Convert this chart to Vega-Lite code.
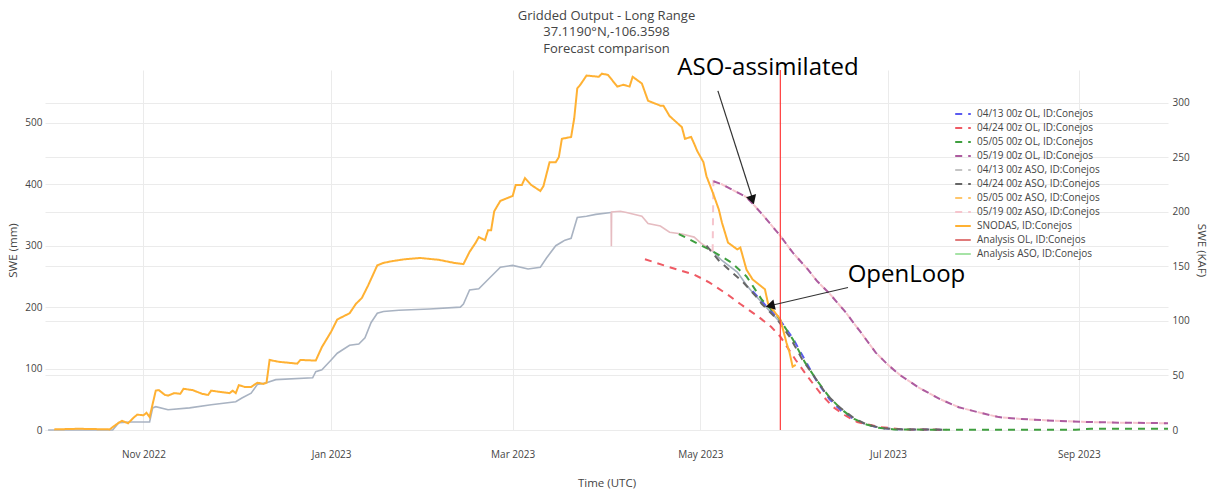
{
  "$schema": "https://vega.github.io/schema/vega-lite/v6.json",
  "width": 1123,
  "height": 360,
  "autosize": {"type": "none"},
  "padding": {"left": 45, "top": 70, "right": 41, "bottom": 60},
  "background": "white",
  "config": {
    "view": {"stroke": null},
    "font": "Open Sans",
    "axis": {"labelFont": "Open Sans", "labelFontSize": 10, "labelColor": "#444", "titleFont": "Open Sans", "titleFontSize": 11.5, "titleFontWeight": "normal", "titleColor": "#444", "domain": false, "ticks": false, "gridColor": "#ebebeb", "gridWidth": 1},
    "axisX": {"labelExpr": "utcFormat(datum.value, '%b %Y')"},
    "legend": {"orient": "none", "legendX": 909, "legendY": 35, "labelFont": "Open Sans", "labelFontSize": 10, "labelColor": "#444", "symbolType": "stroke", "symbolSize": 243, "symbolStrokeWidth": 2, "rowPadding": 0, "labelOffset": 5, "labelLimit": 300, "padding": 0, "title": null}
  },
  "title": {"text": ["Gridded Output - Long Range", "37.1190°N,-106.3598", "Forecast comparison"], "font": "Open Sans", "fontSize": 13, "fontWeight": "normal", "color": "#444", "lineHeight": 16.3, "anchor": "middle", "offset": 0, "frame": "group"},
  "datasets": {
    "hist1": [
      {"date": "2022-10-01", "swe": 0}, {"date": "2022-10-22", "swe": 0}, {"date": "2022-10-24", "swe": 12}, {"date": "2022-10-28", "swe": 13},
      {"date": "2022-11-03", "swe": 13}, {"date": "2022-11-04", "swe": 36}, {"date": "2022-11-05", "swe": 38}, {"date": "2022-11-09", "swe": 33},
      {"date": "2022-11-16", "swe": 36}, {"date": "2022-11-23", "swe": 41}, {"date": "2022-12-01", "swe": 46}, {"date": "2022-12-03", "swe": 52},
      {"date": "2022-12-06", "swe": 60}, {"date": "2022-12-08", "swe": 74}, {"date": "2022-12-11", "swe": 77}, {"date": "2022-12-14", "swe": 82},
      {"date": "2022-12-26", "swe": 85}, {"date": "2022-12-27", "swe": 95}, {"date": "2022-12-29", "swe": 98}, {"date": "2023-01-01", "swe": 114},
      {"date": "2023-01-03", "swe": 125}, {"date": "2023-01-07", "swe": 138}, {"date": "2023-01-10", "swe": 140}, {"date": "2023-01-12", "swe": 150},
      {"date": "2023-01-14", "swe": 175}, {"date": "2023-01-16", "swe": 190}, {"date": "2023-01-18", "swe": 193}, {"date": "2023-01-23", "swe": 195},
      {"date": "2023-02-02", "swe": 197}, {"date": "2023-02-12", "swe": 200}, {"date": "2023-02-13", "swe": 205}, {"date": "2023-02-15", "swe": 228},
      {"date": "2023-02-18", "swe": 230}, {"date": "2023-02-21", "swe": 245}, {"date": "2023-02-25", "swe": 265}, {"date": "2023-03-01", "swe": 268},
      {"date": "2023-03-06", "swe": 262}, {"date": "2023-03-10", "swe": 265}, {"date": "2023-03-12", "swe": 280}, {"date": "2023-03-15", "swe": 300},
      {"date": "2023-03-17", "swe": 306}, {"date": "2023-03-18", "swe": 309}, {"date": "2023-03-20", "swe": 312}, {"date": "2023-03-22", "swe": 346},
      {"date": "2023-03-25", "swe": 348}, {"date": "2023-03-28", "swe": 351}, {"date": "2023-04-02", "swe": 354}
    ],
    "hist2": [
      {"date": "2023-04-02", "swe": 354}, {"date": "2023-04-02T02:00:00Z", "swe": 299}, {"date": "2023-04-02T04:00:00Z", "swe": 355},
      {"date": "2023-04-05", "swe": 356}, {"date": "2023-04-07", "swe": 354}, {"date": "2023-04-12", "swe": 348}, {"date": "2023-04-14", "swe": 336},
      {"date": "2023-04-18", "swe": 332}, {"date": "2023-04-21", "swe": 322}, {"date": "2023-04-25", "swe": 319}, {"date": "2023-04-29", "swe": 314},
      {"date": "2023-05-01", "swe": 305}, {"date": "2023-05-05", "swe": 291}
    ],
    "hist3": [
      {"date": "2023-05-05", "swe": 291}, {"date": "2023-05-08", "swe": 276}, {"date": "2023-05-13", "swe": 257}, {"date": "2023-05-16", "swe": 236},
      {"date": "2023-05-18", "swe": 224}, {"date": "2023-05-22", "swe": 202}, {"date": "2023-05-27", "swe": 175}
    ],
    "lines": [
      {"series": "04/13 00z OL, ID:Conejos", "date": "2023-05-18", "swe": 226},
      {"series": "04/13 00z OL, ID:Conejos", "date": "2023-05-22", "swe": 204},
      {"series": "04/13 00z OL, ID:Conejos", "date": "2023-05-27", "swe": 178},
      {"series": "04/13 00z OL, ID:Conejos", "date": "2023-05-31", "swe": 150},
      {"series": "04/13 00z OL, ID:Conejos", "date": "2023-06-04", "swe": 114},
      {"series": "04/13 00z OL, ID:Conejos", "date": "2023-06-08", "swe": 78},
      {"series": "04/13 00z OL, ID:Conejos", "date": "2023-06-12", "swe": 50},
      {"series": "04/13 00z OL, ID:Conejos", "date": "2023-06-16", "swe": 30},
      {"series": "04/13 00z OL, ID:Conejos", "date": "2023-06-20", "swe": 17},
      {"series": "04/13 00z OL, ID:Conejos", "date": "2023-06-24", "swe": 9},
      {"series": "04/13 00z OL, ID:Conejos", "date": "2023-06-28", "swe": 4},
      {"series": "04/13 00z OL, ID:Conejos", "date": "2023-07-03", "swe": 1.2},
      {"series": "04/13 00z OL, ID:Conejos", "date": "2023-07-20", "swe": 0.3},

      {"series": "04/24 00z OL, ID:Conejos", "date": "2023-04-13", "swe": 278},
      {"series": "04/24 00z OL, ID:Conejos", "date": "2023-04-21", "swe": 265},
      {"series": "04/24 00z OL, ID:Conejos", "date": "2023-04-29", "swe": 253},
      {"series": "04/24 00z OL, ID:Conejos", "date": "2023-05-04", "swe": 240},
      {"series": "04/24 00z OL, ID:Conejos", "date": "2023-05-10", "swe": 220},
      {"series": "04/24 00z OL, ID:Conejos", "date": "2023-05-14", "swe": 205},
      {"series": "04/24 00z OL, ID:Conejos", "date": "2023-05-20", "swe": 184},
      {"series": "04/24 00z OL, ID:Conejos", "date": "2023-05-24", "swe": 168},
      {"series": "04/24 00z OL, ID:Conejos", "date": "2023-05-27", "swe": 152},
      {"series": "04/24 00z OL, ID:Conejos", "date": "2023-06-01", "swe": 114},
      {"series": "04/24 00z OL, ID:Conejos", "date": "2023-06-05", "swe": 86},
      {"series": "04/24 00z OL, ID:Conejos", "date": "2023-06-09", "swe": 60},
      {"series": "04/24 00z OL, ID:Conejos", "date": "2023-06-13", "swe": 38},
      {"series": "04/24 00z OL, ID:Conejos", "date": "2023-06-17", "swe": 24},
      {"series": "04/24 00z OL, ID:Conejos", "date": "2023-06-21", "swe": 13},
      {"series": "04/24 00z OL, ID:Conejos", "date": "2023-06-28", "swe": 5},
      {"series": "04/24 00z OL, ID:Conejos", "date": "2023-07-06", "swe": 1},
      {"series": "04/24 00z OL, ID:Conejos", "date": "2023-07-20", "swe": 0.5},

      {"series": "05/05 00z OL, ID:Conejos", "date": "2023-04-24", "swe": 319},
      {"series": "05/05 00z OL, ID:Conejos", "date": "2023-05-05", "swe": 291},
      {"series": "05/05 00z OL, ID:Conejos", "date": "2023-05-11", "swe": 273},
      {"series": "05/05 00z OL, ID:Conejos", "date": "2023-05-16", "swe": 250},
      {"series": "05/05 00z OL, ID:Conejos", "date": "2023-05-21", "swe": 212},
      {"series": "05/05 00z OL, ID:Conejos", "date": "2023-05-26", "swe": 186},
      {"series": "05/05 00z OL, ID:Conejos", "date": "2023-05-31", "swe": 148},
      {"series": "05/05 00z OL, ID:Conejos", "date": "2023-06-04", "swe": 110},
      {"series": "05/05 00z OL, ID:Conejos", "date": "2023-06-08", "swe": 80},
      {"series": "05/05 00z OL, ID:Conejos", "date": "2023-06-12", "swe": 53},
      {"series": "05/05 00z OL, ID:Conejos", "date": "2023-06-16", "swe": 33},
      {"series": "05/05 00z OL, ID:Conejos", "date": "2023-06-20", "swe": 18},
      {"series": "05/05 00z OL, ID:Conejos", "date": "2023-06-24", "swe": 9},
      {"series": "05/05 00z OL, ID:Conejos", "date": "2023-06-28", "swe": 3.5},
      {"series": "05/05 00z OL, ID:Conejos", "date": "2023-07-03", "swe": 1},
      {"series": "05/05 00z OL, ID:Conejos", "date": "2023-07-15", "swe": 0.5},
      {"series": "05/05 00z OL, ID:Conejos", "date": "2023-08-31", "swe": 0.5},
      {"series": "05/05 00z OL, ID:Conejos", "date": "2023-09-05", "swe": 2},
      {"series": "05/05 00z OL, ID:Conejos", "date": "2023-09-30", "swe": 2},

      {"series": "04/24 00z ASO, ID:Conejos", "date": "2023-05-03", "swe": 300},
      {"series": "04/24 00z ASO, ID:Conejos", "date": "2023-05-07", "swe": 276},
      {"series": "04/24 00z ASO, ID:Conejos", "date": "2023-05-11", "swe": 258},
      {"series": "04/24 00z ASO, ID:Conejos", "date": "2023-05-15", "swe": 240},
      {"series": "04/24 00z ASO, ID:Conejos", "date": "2023-05-19", "swe": 218},
      {"series": "04/24 00z ASO, ID:Conejos", "date": "2023-05-21", "swe": 205},
      {"series": "04/24 00z ASO, ID:Conejos", "date": "2023-05-26", "swe": 180},
      {"series": "04/24 00z ASO, ID:Conejos", "date": "2023-05-30", "swe": 152},
      {"series": "04/24 00z ASO, ID:Conejos", "date": "2023-06-03", "swe": 116},
      {"series": "04/24 00z ASO, ID:Conejos", "date": "2023-06-08", "swe": 80},
      {"series": "04/24 00z ASO, ID:Conejos", "date": "2023-06-11", "swe": 58},
      {"series": "04/24 00z ASO, ID:Conejos", "date": "2023-06-15", "swe": 38},
      {"series": "04/24 00z ASO, ID:Conejos", "date": "2023-06-20", "swe": 19},
      {"series": "04/24 00z ASO, ID:Conejos", "date": "2023-06-24", "swe": 9},
      {"series": "04/24 00z ASO, ID:Conejos", "date": "2023-06-29", "swe": 3},
      {"series": "04/24 00z ASO, ID:Conejos", "date": "2023-07-06", "swe": 1},
      {"series": "04/24 00z ASO, ID:Conejos", "date": "2023-07-20", "swe": 0.5},

      {"series": "05/19 00z ASO, ID:Conejos", "date": "2023-05-05", "swe": 291},
      {"series": "05/19 00z ASO, ID:Conejos", "date": "2023-05-05T06:00:00Z", "swe": 405},
      {"series": "05/19 00z ASO, ID:Conejos", "date": "2023-05-08", "swe": 400},
      {"series": "05/19 00z ASO, ID:Conejos", "date": "2023-05-11", "swe": 392},
      {"series": "05/19 00z ASO, ID:Conejos", "date": "2023-05-16", "swe": 379},
      {"series": "05/19 00z ASO, ID:Conejos", "date": "2023-05-19", "swe": 363},
      {"series": "05/19 00z ASO, ID:Conejos", "date": "2023-05-22", "swe": 346},
      {"series": "05/19 00z ASO, ID:Conejos", "date": "2023-05-27", "swe": 316},
      {"series": "05/19 00z ASO, ID:Conejos", "date": "2023-05-31", "swe": 289},
      {"series": "05/19 00z ASO, ID:Conejos", "date": "2023-06-05", "swe": 261},
      {"series": "05/19 00z ASO, ID:Conejos", "date": "2023-06-08", "swe": 242},
      {"series": "05/19 00z ASO, ID:Conejos", "date": "2023-06-12", "swe": 222},
      {"series": "05/19 00z ASO, ID:Conejos", "date": "2023-06-17", "swe": 193},
      {"series": "05/19 00z ASO, ID:Conejos", "date": "2023-06-22", "swe": 160},
      {"series": "05/19 00z ASO, ID:Conejos", "date": "2023-06-27", "swe": 126},
      {"series": "05/19 00z ASO, ID:Conejos", "date": "2023-07-01", "swe": 106},
      {"series": "05/19 00z ASO, ID:Conejos", "date": "2023-07-05", "swe": 89},
      {"series": "05/19 00z ASO, ID:Conejos", "date": "2023-07-11", "swe": 69},
      {"series": "05/19 00z ASO, ID:Conejos", "date": "2023-07-18", "swe": 50},
      {"series": "05/19 00z ASO, ID:Conejos", "date": "2023-07-24", "swe": 37},
      {"series": "05/19 00z ASO, ID:Conejos", "date": "2023-07-31", "swe": 28},
      {"series": "05/19 00z ASO, ID:Conejos", "date": "2023-08-06", "swe": 21},
      {"series": "05/19 00z ASO, ID:Conejos", "date": "2023-08-13", "swe": 18},
      {"series": "05/19 00z ASO, ID:Conejos", "date": "2023-08-24", "swe": 15},
      {"series": "05/19 00z ASO, ID:Conejos", "date": "2023-09-04", "swe": 13},
      {"series": "05/19 00z ASO, ID:Conejos", "date": "2023-09-14", "swe": 12},
      {"series": "05/19 00z ASO, ID:Conejos", "date": "2023-09-30", "swe": 11},

      {"series": "05/19 00z OL, ID:Conejos", "date": "2023-05-05T06:00:00Z", "swe": 405},
      {"series": "05/19 00z OL, ID:Conejos", "date": "2023-05-08", "swe": 400},
      {"series": "05/19 00z OL, ID:Conejos", "date": "2023-05-11", "swe": 392},
      {"series": "05/19 00z OL, ID:Conejos", "date": "2023-05-16", "swe": 379},
      {"series": "05/19 00z OL, ID:Conejos", "date": "2023-05-19", "swe": 363},
      {"series": "05/19 00z OL, ID:Conejos", "date": "2023-05-22", "swe": 346},
      {"series": "05/19 00z OL, ID:Conejos", "date": "2023-05-27", "swe": 316},
      {"series": "05/19 00z OL, ID:Conejos", "date": "2023-05-31", "swe": 289},
      {"series": "05/19 00z OL, ID:Conejos", "date": "2023-06-05", "swe": 261},
      {"series": "05/19 00z OL, ID:Conejos", "date": "2023-06-08", "swe": 242},
      {"series": "05/19 00z OL, ID:Conejos", "date": "2023-06-12", "swe": 222},
      {"series": "05/19 00z OL, ID:Conejos", "date": "2023-06-17", "swe": 193},
      {"series": "05/19 00z OL, ID:Conejos", "date": "2023-06-22", "swe": 160},
      {"series": "05/19 00z OL, ID:Conejos", "date": "2023-06-27", "swe": 126},
      {"series": "05/19 00z OL, ID:Conejos", "date": "2023-07-01", "swe": 106},
      {"series": "05/19 00z OL, ID:Conejos", "date": "2023-07-05", "swe": 89},
      {"series": "05/19 00z OL, ID:Conejos", "date": "2023-07-11", "swe": 69},
      {"series": "05/19 00z OL, ID:Conejos", "date": "2023-07-18", "swe": 50},
      {"series": "05/19 00z OL, ID:Conejos", "date": "2023-07-24", "swe": 37},
      {"series": "05/19 00z OL, ID:Conejos", "date": "2023-07-31", "swe": 28},
      {"series": "05/19 00z OL, ID:Conejos", "date": "2023-08-06", "swe": 21},
      {"series": "05/19 00z OL, ID:Conejos", "date": "2023-08-13", "swe": 18},
      {"series": "05/19 00z OL, ID:Conejos", "date": "2023-08-24", "swe": 15},
      {"series": "05/19 00z OL, ID:Conejos", "date": "2023-09-04", "swe": 13},
      {"series": "05/19 00z OL, ID:Conejos", "date": "2023-09-14", "swe": 12},
      {"series": "05/19 00z OL, ID:Conejos", "date": "2023-09-30", "swe": 11},

      {"series": "SNODAS, ID:Conejos", "date": "2022-10-03", "swe": 1},
      {"series": "SNODAS, ID:Conejos", "date": "2022-10-11", "swe": 2},
      {"series": "SNODAS, ID:Conejos", "date": "2022-10-21", "swe": 1},
      {"series": "SNODAS, ID:Conejos", "date": "2022-10-24", "swe": 12},
      {"series": "SNODAS, ID:Conejos", "date": "2022-10-25", "swe": 15},
      {"series": "SNODAS, ID:Conejos", "date": "2022-10-27", "swe": 11},
      {"series": "SNODAS, ID:Conejos", "date": "2022-10-29", "swe": 21},
      {"series": "SNODAS, ID:Conejos", "date": "2022-10-30", "swe": 25},
      {"series": "SNODAS, ID:Conejos", "date": "2022-11-01", "swe": 24},
      {"series": "SNODAS, ID:Conejos", "date": "2022-11-02", "swe": 28},
      {"series": "SNODAS, ID:Conejos", "date": "2022-11-03", "swe": 21},
      {"series": "SNODAS, ID:Conejos", "date": "2022-11-05", "swe": 64},
      {"series": "SNODAS, ID:Conejos", "date": "2022-11-06", "swe": 65},
      {"series": "SNODAS, ID:Conejos", "date": "2022-11-08", "swe": 57},
      {"series": "SNODAS, ID:Conejos", "date": "2022-11-09", "swe": 56},
      {"series": "SNODAS, ID:Conejos", "date": "2022-11-11", "swe": 60},
      {"series": "SNODAS, ID:Conejos", "date": "2022-11-13", "swe": 59},
      {"series": "SNODAS, ID:Conejos", "date": "2022-11-14", "swe": 67},
      {"series": "SNODAS, ID:Conejos", "date": "2022-11-17", "swe": 65},
      {"series": "SNODAS, ID:Conejos", "date": "2022-11-20", "swe": 59},
      {"series": "SNODAS, ID:Conejos", "date": "2022-11-22", "swe": 57},
      {"series": "SNODAS, ID:Conejos", "date": "2022-11-23", "swe": 64},
      {"series": "SNODAS, ID:Conejos", "date": "2022-11-26", "swe": 62},
      {"series": "SNODAS, ID:Conejos", "date": "2022-11-29", "swe": 60},
      {"series": "SNODAS, ID:Conejos", "date": "2022-11-30", "swe": 64},
      {"series": "SNODAS, ID:Conejos", "date": "2022-12-01", "swe": 60},
      {"series": "SNODAS, ID:Conejos", "date": "2022-12-02", "swe": 73},
      {"series": "SNODAS, ID:Conejos", "date": "2022-12-04", "swe": 70},
      {"series": "SNODAS, ID:Conejos", "date": "2022-12-06", "swe": 70},
      {"series": "SNODAS, ID:Conejos", "date": "2022-12-08", "swe": 77},
      {"series": "SNODAS, ID:Conejos", "date": "2022-12-10", "swe": 75},
      {"series": "SNODAS, ID:Conejos", "date": "2022-12-11", "swe": 77},
      {"series": "SNODAS, ID:Conejos", "date": "2022-12-12", "swe": 114},
      {"series": "SNODAS, ID:Conejos", "date": "2022-12-15", "swe": 111},
      {"series": "SNODAS, ID:Conejos", "date": "2022-12-21", "swe": 108},
      {"series": "SNODAS, ID:Conejos", "date": "2022-12-22", "swe": 114},
      {"series": "SNODAS, ID:Conejos", "date": "2022-12-27", "swe": 113},
      {"series": "SNODAS, ID:Conejos", "date": "2022-12-29", "swe": 135},
      {"series": "SNODAS, ID:Conejos", "date": "2023-01-01", "swe": 160},
      {"series": "SNODAS, ID:Conejos", "date": "2023-01-03", "swe": 180},
      {"series": "SNODAS, ID:Conejos", "date": "2023-01-05", "swe": 185},
      {"series": "SNODAS, ID:Conejos", "date": "2023-01-07", "swe": 190},
      {"series": "SNODAS, ID:Conejos", "date": "2023-01-09", "swe": 205},
      {"series": "SNODAS, ID:Conejos", "date": "2023-01-11", "swe": 215},
      {"series": "SNODAS, ID:Conejos", "date": "2023-01-13", "swe": 235},
      {"series": "SNODAS, ID:Conejos", "date": "2023-01-16", "swe": 268},
      {"series": "SNODAS, ID:Conejos", "date": "2023-01-18", "swe": 272},
      {"series": "SNODAS, ID:Conejos", "date": "2023-01-21", "swe": 275},
      {"series": "SNODAS, ID:Conejos", "date": "2023-01-25", "swe": 278},
      {"series": "SNODAS, ID:Conejos", "date": "2023-01-30", "swe": 280},
      {"series": "SNODAS, ID:Conejos", "date": "2023-02-05", "swe": 277},
      {"series": "SNODAS, ID:Conejos", "date": "2023-02-10", "swe": 272},
      {"series": "SNODAS, ID:Conejos", "date": "2023-02-13", "swe": 270},
      {"series": "SNODAS, ID:Conejos", "date": "2023-02-15", "swe": 290},
      {"series": "SNODAS, ID:Conejos", "date": "2023-02-17", "swe": 305},
      {"series": "SNODAS, ID:Conejos", "date": "2023-02-18", "swe": 314},
      {"series": "SNODAS, ID:Conejos", "date": "2023-02-20", "swe": 309},
      {"series": "SNODAS, ID:Conejos", "date": "2023-02-21", "swe": 325},
      {"series": "SNODAS, ID:Conejos", "date": "2023-02-22", "swe": 325},
      {"series": "SNODAS, ID:Conejos", "date": "2023-02-23", "swe": 356},
      {"series": "SNODAS, ID:Conejos", "date": "2023-02-25", "swe": 373},
      {"series": "SNODAS, ID:Conejos", "date": "2023-02-27", "swe": 377},
      {"series": "SNODAS, ID:Conejos", "date": "2023-03-01", "swe": 381},
      {"series": "SNODAS, ID:Conejos", "date": "2023-03-02", "swe": 399},
      {"series": "SNODAS, ID:Conejos", "date": "2023-03-04", "swe": 399},
      {"series": "SNODAS, ID:Conejos", "date": "2023-03-05", "swe": 410},
      {"series": "SNODAS, ID:Conejos", "date": "2023-03-07", "swe": 399},
      {"series": "SNODAS, ID:Conejos", "date": "2023-03-10", "swe": 389},
      {"series": "SNODAS, ID:Conejos", "date": "2023-03-11", "swe": 397},
      {"series": "SNODAS, ID:Conejos", "date": "2023-03-13", "swe": 436},
      {"series": "SNODAS, ID:Conejos", "date": "2023-03-15", "swe": 436},
      {"series": "SNODAS, ID:Conejos", "date": "2023-03-16", "swe": 444},
      {"series": "SNODAS, ID:Conejos", "date": "2023-03-17", "swe": 474},
      {"series": "SNODAS, ID:Conejos", "date": "2023-03-20", "swe": 477},
      {"series": "SNODAS, ID:Conejos", "date": "2023-03-21", "swe": 507},
      {"series": "SNODAS, ID:Conejos", "date": "2023-03-22", "swe": 556},
      {"series": "SNODAS, ID:Conejos", "date": "2023-03-23", "swe": 562},
      {"series": "SNODAS, ID:Conejos", "date": "2023-03-25", "swe": 577},
      {"series": "SNODAS, ID:Conejos", "date": "2023-03-29", "swe": 575},
      {"series": "SNODAS, ID:Conejos", "date": "2023-03-30", "swe": 580},
      {"series": "SNODAS, ID:Conejos", "date": "2023-04-01", "swe": 578},
      {"series": "SNODAS, ID:Conejos", "date": "2023-04-04", "swe": 559},
      {"series": "SNODAS, ID:Conejos", "date": "2023-04-06", "swe": 562},
      {"series": "SNODAS, ID:Conejos", "date": "2023-04-08", "swe": 559},
      {"series": "SNODAS, ID:Conejos", "date": "2023-04-09", "swe": 575},
      {"series": "SNODAS, ID:Conejos", "date": "2023-04-12", "swe": 564},
      {"series": "SNODAS, ID:Conejos", "date": "2023-04-14", "swe": 536},
      {"series": "SNODAS, ID:Conejos", "date": "2023-04-18", "swe": 528},
      {"series": "SNODAS, ID:Conejos", "date": "2023-04-19", "swe": 528},
      {"series": "SNODAS, ID:Conejos", "date": "2023-04-21", "swe": 511},
      {"series": "SNODAS, ID:Conejos", "date": "2023-04-25", "swe": 493},
      {"series": "SNODAS, ID:Conejos", "date": "2023-04-26", "swe": 474},
      {"series": "SNODAS, ID:Conejos", "date": "2023-04-28", "swe": 477},
      {"series": "SNODAS, ID:Conejos", "date": "2023-04-29", "swe": 466},
      {"series": "SNODAS, ID:Conejos", "date": "2023-04-30", "swe": 454},
      {"series": "SNODAS, ID:Conejos", "date": "2023-05-02", "swe": 436},
      {"series": "SNODAS, ID:Conejos", "date": "2023-05-03", "swe": 413},
      {"series": "SNODAS, ID:Conejos", "date": "2023-05-04", "swe": 400},
      {"series": "SNODAS, ID:Conejos", "date": "2023-05-05", "swe": 387},
      {"series": "SNODAS, ID:Conejos", "date": "2023-05-07", "swe": 359},
      {"series": "SNODAS, ID:Conejos", "date": "2023-05-08", "swe": 338},
      {"series": "SNODAS, ID:Conejos", "date": "2023-05-10", "swe": 305},
      {"series": "SNODAS, ID:Conejos", "date": "2023-05-13", "swe": 294},
      {"series": "SNODAS, ID:Conejos", "date": "2023-05-14", "swe": 297},
      {"series": "SNODAS, ID:Conejos", "date": "2023-05-16", "swe": 261},
      {"series": "SNODAS, ID:Conejos", "date": "2023-05-18", "swe": 245},
      {"series": "SNODAS, ID:Conejos", "date": "2023-05-22", "swe": 229},
      {"series": "SNODAS, ID:Conejos", "date": "2023-05-23", "swe": 206},
      {"series": "SNODAS, ID:Conejos", "date": "2023-05-27", "swe": 180},
      {"series": "SNODAS, ID:Conejos", "date": "2023-05-29", "swe": 142},
      {"series": "SNODAS, ID:Conejos", "date": "2023-05-30", "swe": 126},
      {"series": "SNODAS, ID:Conejos", "date": "2023-05-31", "swe": 103},
      {"series": "SNODAS, ID:Conejos", "date": "2023-06-01", "swe": 106}
    ],
    "marker": [{"date": "2023-05-27"}],
    "arrows": [
      {"label": "ASO-assimilated", "date": "2023-05-06T17:00:00Z", "swe": 552, "date2": "2023-05-18T06:00:00Z", "swe2": 372},
      {"label": "OpenLoop", "date": "2023-06-18T00:00:00Z", "swe": 232, "date2": "2023-05-24T06:00:00Z", "swe2": 203}
    ],
    "headASO": [{"date": "2023-05-17T19:00:00Z", "swe": 377}],
    "headOL": [{"date": "2023-05-24T04:00:00Z", "swe": 203}],
    "labels": [
      {"label": "ASO-assimilated", "date": "2023-05-23", "swe": 590},
      {"label": "OpenLoop", "date": "2023-07-07", "swe": 252}
    ]
  },
  "layer": [
    {
      "mark": {"type": "rule", "color": "#b3b3b3", "strokeWidth": 3},
      "encoding": {
        "y": {"datum": 0, "type": "quantitative", "scale": {"domain": [0, 330], "nice": false}, "axis": {"orient": "right", "title": "SWE (KAF)", "values": [0, 50, 100, 150, 200, 250, 300], "labelPadding": 4, "titlePadding": 6, "grid": true}}
      }
    },
    {
      "layer": [
        {
          "data": {"name": "hist1"},
          "mark": {"type": "line", "color": "#a9b3c2", "strokeWidth": 1.6},
          "encoding": {
            "x": {"field": "date", "type": "temporal", "title": "Time (UTC)", "scale": {"type": "utc", "domain": [{"year": 2022, "month": 9, "date": 30, "utc": true}, {"year": 2023, "month": 9, "date": 30, "utc": true}]}, "axis": {"values": [{"year": 2022, "month": 11, "date": 1, "utc": true}, {"year": 2023, "month": 1, "date": 1, "utc": true}, {"year": 2023, "month": 3, "date": 1, "utc": true}, {"year": 2023, "month": 5, "date": 1, "utc": true}, {"year": 2023, "month": 7, "date": 1, "utc": true}, {"year": 2023, "month": 9, "date": 1, "utc": true}], "labelExpr": "utcFormat(datum.value, '%b %Y')", "labelPadding": 19, "titlePadding": 18, "grid": true}},
            "y": {"field": "swe", "type": "quantitative", "title": "SWE (mm)", "scale": {"domain": [0, 586], "nice": false}, "axis": {"orient": "left", "values": [0, 100, 200, 300, 400, 500], "labelPadding": 3, "titlePadding": 6, "grid": true}}
          }
        },
        {
          "data": {"name": "hist2"},
          "mark": {"type": "line", "color": "#e6bcc1", "strokeWidth": 1.6},
          "encoding": {
            "x": {"field": "date", "type": "temporal", "title": "Time (UTC)", "scale": {"type": "utc", "domain": [{"year": 2022, "month": 9, "date": 30, "utc": true}, {"year": 2023, "month": 9, "date": 30, "utc": true}]}},
            "y": {"field": "swe", "type": "quantitative", "title": "SWE (mm)", "scale": {"domain": [0, 586], "nice": false}}
          }
        },
        {
          "data": {"name": "hist3"},
          "mark": {"type": "line", "color": "#a6b0bf", "strokeWidth": 1.6},
          "encoding": {
            "x": {"field": "date", "type": "temporal", "title": "Time (UTC)", "scale": {"type": "utc", "domain": [{"year": 2022, "month": 9, "date": 30, "utc": true}, {"year": 2023, "month": 9, "date": 30, "utc": true}]}},
            "y": {"field": "swe", "type": "quantitative", "title": "SWE (mm)", "scale": {"domain": [0, 586], "nice": false}}
          }
        },
        {
          "data": {"name": "lines"},
          "transform": [{"filter": {"field": "series", "oneOf": ["05/19 00z ASO, ID:Conejos", "04/13 00z OL, ID:Conejos", "04/24 00z OL, ID:Conejos", "05/05 00z OL, ID:Conejos", "04/24 00z ASO, ID:Conejos", "05/19 00z OL, ID:Conejos", "SNODAS, ID:Conejos"]}}],
          "mark": {"type": "line", "strokeWidth": 2},
          "encoding": {
            "x": {"field": "date", "type": "temporal", "title": "Time (UTC)", "scale": {"type": "utc", "domain": [{"year": 2022, "month": 9, "date": 30, "utc": true}, {"year": 2023, "month": 9, "date": 30, "utc": true}]}},
            "y": {"field": "swe", "type": "quantitative", "title": "SWE (mm)", "scale": {"domain": [0, 586], "nice": false}},
            "color": {"field": "series", "type": "nominal", "title": null, "scale": {"domain": ["04/13 00z OL, ID:Conejos", "04/24 00z OL, ID:Conejos", "05/05 00z OL, ID:Conejos", "05/19 00z OL, ID:Conejos", "04/13 00z ASO, ID:Conejos", "04/24 00z ASO, ID:Conejos", "05/05 00z ASO, ID:Conejos", "05/19 00z ASO, ID:Conejos", "SNODAS, ID:Conejos", "Analysis OL, ID:Conejos", "Analysis ASO, ID:Conejos"], "range": ["#5b5bf0", "#ef5a64", "#3f9f3f", "#ad5b9f", "#c4c4c4", "#666666", "#ffc66b", "#f6c5cd", "#ffb133", "#e07a7a", "#a6e3a6"]}},
            "strokeDash": {"field": "series", "type": "nominal", "title": null, "scale": {"domain": ["04/13 00z OL, ID:Conejos", "04/24 00z OL, ID:Conejos", "05/05 00z OL, ID:Conejos", "05/19 00z OL, ID:Conejos", "04/13 00z ASO, ID:Conejos", "04/24 00z ASO, ID:Conejos", "05/05 00z ASO, ID:Conejos", "05/19 00z ASO, ID:Conejos", "SNODAS, ID:Conejos", "Analysis OL, ID:Conejos", "Analysis ASO, ID:Conejos"], "range": [[7, 6], [7, 6], [7, 6], [7, 6], [7, 6], [7, 6], [7, 6], [7, 6], [1, 0], [1, 0], [1, 0]]}},
            "order": {"field": "series", "sort": "ascending"}
          }
        },
        {
          "data": {"name": "marker"},
          "mark": {"type": "rule", "color": "#ff3b3b", "strokeWidth": 1.2},
          "encoding": {
            "x": {"field": "date", "type": "temporal", "title": "Time (UTC)", "scale": {"type": "utc", "domain": [{"year": 2022, "month": 9, "date": 30, "utc": true}, {"year": 2023, "month": 9, "date": 30, "utc": true}]}}
          }
        },
        {
          "data": {"name": "arrows"},
          "mark": {"type": "rule", "color": "#333333", "strokeWidth": 1.2},
          "encoding": {
            "x": {"field": "date", "type": "temporal", "title": "Time (UTC)", "scale": {"type": "utc", "domain": [{"year": 2022, "month": 9, "date": 30, "utc": true}, {"year": 2023, "month": 9, "date": 30, "utc": true}]}},
            "y": {"field": "swe", "type": "quantitative", "title": "SWE (mm)", "scale": {"domain": [0, 586], "nice": false}},
            "x2": {"field": "date2"},
            "y2": {"field": "swe2"}
          }
        },
        {
          "data": {"name": "headASO"},
          "mark": {"type": "point", "shape": "triangle", "filled": true, "color": "#111111", "opacity": 1, "size": 110, "angle": 162},
          "encoding": {
            "x": {"field": "date", "type": "temporal", "title": "Time (UTC)", "scale": {"type": "utc", "domain": [{"year": 2022, "month": 9, "date": 30, "utc": true}, {"year": 2023, "month": 9, "date": 30, "utc": true}]}},
            "y": {"field": "swe", "type": "quantitative", "title": "SWE (mm)", "scale": {"domain": [0, 586], "nice": false}}
          }
        },
        {
          "data": {"name": "headOL"},
          "mark": {"type": "point", "shape": "triangle", "filled": true, "color": "#111111", "opacity": 1, "size": 110, "angle": 257},
          "encoding": {
            "x": {"field": "date", "type": "temporal", "title": "Time (UTC)", "scale": {"type": "utc", "domain": [{"year": 2022, "month": 9, "date": 30, "utc": true}, {"year": 2023, "month": 9, "date": 30, "utc": true}]}},
            "y": {"field": "swe", "type": "quantitative", "title": "SWE (mm)", "scale": {"domain": [0, 586], "nice": false}}
          }
        },
        {
          "data": {"name": "labels"},
          "mark": {"type": "text", "font": "Open Sans", "fontSize": 24, "color": "#000000", "baseline": "middle", "align": "center"},
          "encoding": {
            "x": {"field": "date", "type": "temporal", "title": "Time (UTC)", "scale": {"type": "utc", "domain": [{"year": 2022, "month": 9, "date": 30, "utc": true}, {"year": 2023, "month": 9, "date": 30, "utc": true}]}},
            "y": {"field": "swe", "type": "quantitative", "title": "SWE (mm)", "scale": {"domain": [0, 586], "nice": false}},
            "text": {"field": "label"}
          }
        }
      ]
    }
  ],
  "resolve": {"scale": {"y": "independent"}, "axis": {"y": "independent"}}
}
